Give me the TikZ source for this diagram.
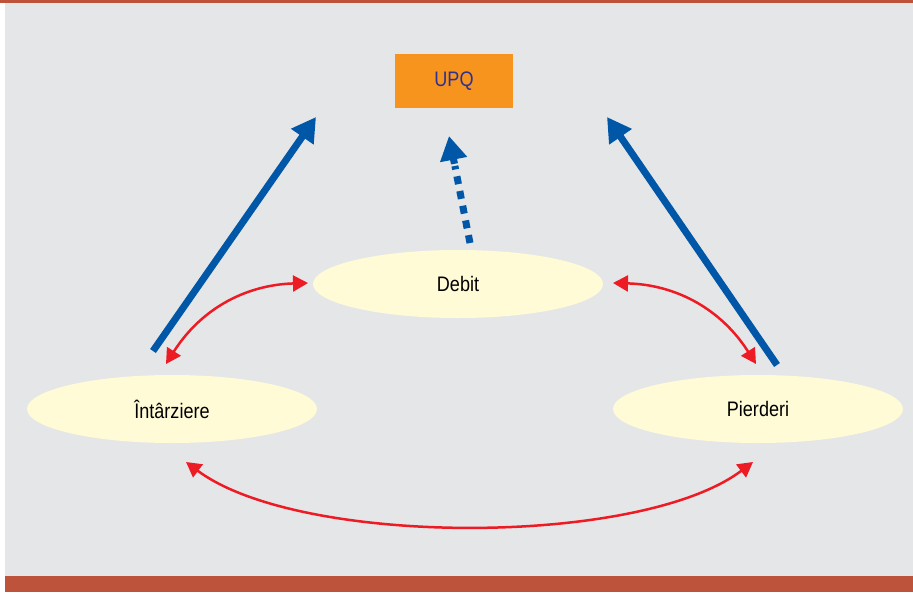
\documentclass[tikz,border=0pt]{standalone}
\usepackage{fontspec}
\setmainfont{Liberation Sans}
\usetikzlibrary{arrows.meta,shapes.geometric,calc}
\definecolor{bg}{HTML}{E5E6E8}
\definecolor{bar}{HTML}{BC533A}
\definecolor{upq}{HTML}{F7941D}
\definecolor{upqtxt}{HTML}{2E3192}
\definecolor{ell}{HTML}{FFFBD6}
\definecolor{blu}{HTML}{0057A8}
\definecolor{rd}{HTML}{ED1C24}
\begin{document}
\begin{tikzpicture}[x=1pt,y=-1pt,
  lbl/.style={font=\fontsize{21}{24}\selectfont\addfontfeature{FakeStretch=0.86}},
  ellnode/.style={ellipse,fill=ell,minimum width=290pt,minimum height=68pt,inner sep=0pt,lbl},
  bluearrow/.style={draw=blu,line width=7pt,-{Triangle[length=24pt,width=26pt]}},
  redarrow/.style={draw=rd,line width=2.5pt,{Triangle[length=15pt,width=16pt]}-{Triangle[length=15pt,width=16pt]}}]
\useasboundingbox (0,0) rectangle (913,592);
\fill[white] (0,0) rectangle (913,592);
\fill[bg] (5,3) rectangle (913,576);
\fill[bar] (0,0) rectangle (913,3);
\fill[bar] (5,576) rectangle (913,592);
\node[fill=upq,minimum width=118pt,minimum height=54pt,inner sep=0pt,text=upqtxt,lbl] (upq) at (454,81) {UPQ};
\node[ellnode] (debit) at (458,284) {Debit};
\node[ellnode] (intarz) at (172,409) {Întârziere};
\node[ellnode] (pierd) at (758,409) {Pierderi};
\coordinate (la0) at (153,351);
\coordinate (la1) at (316,117);
\coordinate (ra0) at (777,365);
\coordinate (ra1) at (607,117);
\coordinate (da0) at (470,243);
\coordinate (da1) at (449,136);
\draw[bluearrow] (la0) -- (la1);
\draw[bluearrow] (ra0) -- (ra1);
\draw[draw=blu,line width=7pt,dash pattern=on 8pt off 7pt] (da0) -- ($(da0)!0.72!(da1)$);
\draw[bluearrow] ($(da0)!0.74!(da1)$) -- (da1);
\coordinate (r1a) at (308,283);
\coordinate (r1b) at (166,364);
\coordinate (r2a) at (613,283);
\coordinate (r2b) at (756,364);
\coordinate (r3a) at (186,462);
\coordinate (r3b) at (753,462);
\draw[redarrow] (r1a) to[bend right=28] (r1b);
\draw[redarrow] (r2a) to[bend left=28] (r2b);
\draw[redarrow] (r3a) .. controls (300,547) and (640,547) .. (r3b);
\end{tikzpicture}
\end{document}
